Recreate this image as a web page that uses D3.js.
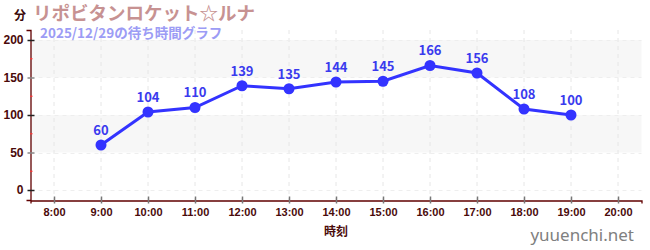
<!DOCTYPE html>
<meta charset="utf-8">
<style>
body { margin: 0; background: #fff; }
svg { display: block; font-family: "Noto Sans CJK JP", "Noto Sans", sans-serif; }
</style>
<body>
<script src="https://d3js.org/d3.v7.min.js"></script>
<script>
'use strict';

const hours = [8, 9, 10, 11, 12, 13, 14, 15, 16, 17, 18, 19, 20];
const pointHours = [9, 10, 11, 12, 13, 14, 15, 16, 17, 18, 19];
const waits = [60, 104, 110, 139, 135, 144, 145, 166, 156, 108, 100];
const yTicks = [0, 50, 100, 150, 200];
const yMinor = [25, 75, 125, 175];
const bands = [[50, 100], [150, 200]];

const width = 650, height = 250;
const x = d3.scaleLinear().domain([7.5, 20.5]).range([30.5, 641.5]);
const y = d3.scaleLinear().domain([-13.33, 213.33]).range([200, 30]);

const svg = d3.select("body").append("svg")
    .attr("width", width).attr("height", height);

// background bands
svg.selectAll("rect.band").data(bands).enter().append("rect")
    .attr("x", x(7.5)).attr("width", x(20.5) - x(7.5))
    .attr("y", d => y(d[1])).attr("height", d => y(d[0]) - y(d[1]))
    .attr("fill", "#f7f7f7");

// grid
svg.selectAll("line.vg").data(hours).enter().append("line")
    .attr("x1", d => x(d)).attr("x2", d => x(d))
    .attr("y1", y.range()[1]).attr("y2", y.range()[0])
    .attr("stroke", "#e6e6e6").attr("stroke-dasharray", "4,4");
svg.selectAll("line.hg").data(yTicks).enter().append("line")
    .attr("x1", x(7.5)).attr("x2", x(20.5))
    .attr("y1", d => Math.round(y(d)) + 0.5).attr("y2", d => Math.round(y(d)) + 0.5)
    .attr("stroke", "#eeeeee").attr("stroke-dasharray", "4,4");

// y axis
const yAxis = svg.append("g").attr("transform", "translate(30.5,0)")
    .call(d3.axisLeft(y).tickValues(yTicks).tickSize(4).tickPadding(3));
yAxis.select(".domain").attr("stroke", "#600000").attr("stroke-width", 1.3);
yAxis.selectAll(".tick line").attr("x2", -3).attr("x1", 4)
    .attr("stroke", (d, i) => i % 2 ? "#888" : "#222").attr("stroke-width", 1.5);
yAxis.selectAll(".tick text").attr("fill", "#4a0a0a")
    .attr("font-size", 12).attr("font-weight", "bold");
svg.selectAll("line.minor").data(yMinor).enter().append("line")
    .attr("x1", 30).attr("x2", 32.5)
    .attr("y1", d => y(d)).attr("y2", d => y(d))
    .attr("stroke", "#f33").attr("stroke-width", 1.2);

// x axis
const xAxis = svg.append("g").attr("transform", "translate(0,200.5)")
    .call(d3.axisBottom(x).tickValues(hours).tickSize(3).tickPadding(5)
      .tickFormat(d => d + ":00"));
xAxis.select(".domain").attr("stroke", "#600000").attr("stroke-width", 1.3);
xAxis.selectAll(".tick line").attr("y1", -4).attr("y2", 3)
    .attr("stroke", "#777").attr("stroke-width", 1.5);
xAxis.selectAll(".tick text").attr("fill", "#4a0a0a")
    .attr("font-size", 11).attr("font-weight", "bold");

// line + points
const pts = pointHours.map((h, i) => [h, waits[i]]);
svg.append("path").datum(pts)
    .attr("fill", "none").attr("stroke", "#3333ff").attr("stroke-width", 3)
    .attr("d", d3.line().x(d => x(d[0])).y(d => y(d[1])));
svg.selectAll("circle.pt").data(pts).enter().append("circle")
    .attr("cx", d => x(d[0])).attr("cy", d => y(d[1])).attr("r", 5.5)
    .attr("fill", "#3333ff");
svg.selectAll("text.lbl").data(pts).enter().append("text")
    .attr("x", d => x(d[0])).attr("y", d => y(d[1]) - 10)
    .attr("text-anchor", "middle").attr("fill", "#3a3aee")
    .attr("font-size", 13).attr("font-weight", "bold")
    .text(d => d[1]);

// titles
svg.append("text").attr("x", 14).attr("y", 20)
    .attr("fill", "#3a0a0a").attr("font-size", 12).attr("font-weight", "bold")
    .text("分");
svg.append("text").attr("x", 33).attr("y", 20)
    .attr("fill", "#c79292").attr("font-size", 18.5).attr("font-weight", "bold")
    .text("リポビタンロケット☆ルナ");
svg.append("text").attr("x", 40).attr("y", 37.5)
    .attr("fill", "#9c9cf5").attr("font-size", 13.5).attr("font-weight", "bold")
    .text("2025/12/29の待ち時間グラフ");
svg.append("text").attr("x", x(14)).attr("y", 236)
    .attr("text-anchor", "middle")
    .attr("fill", "#4a0a0a").attr("font-size", 12).attr("font-weight", "bold")
    .text("時刻");
svg.append("text").attr("x", 634).attr("y", 241)
    .attr("text-anchor", "end")
    .attr("fill", "#808080").attr("font-size", 17).attr("font-family", "Noto Sans, sans-serif")
    .text("yuuenchi.net");
</script>
</body>
